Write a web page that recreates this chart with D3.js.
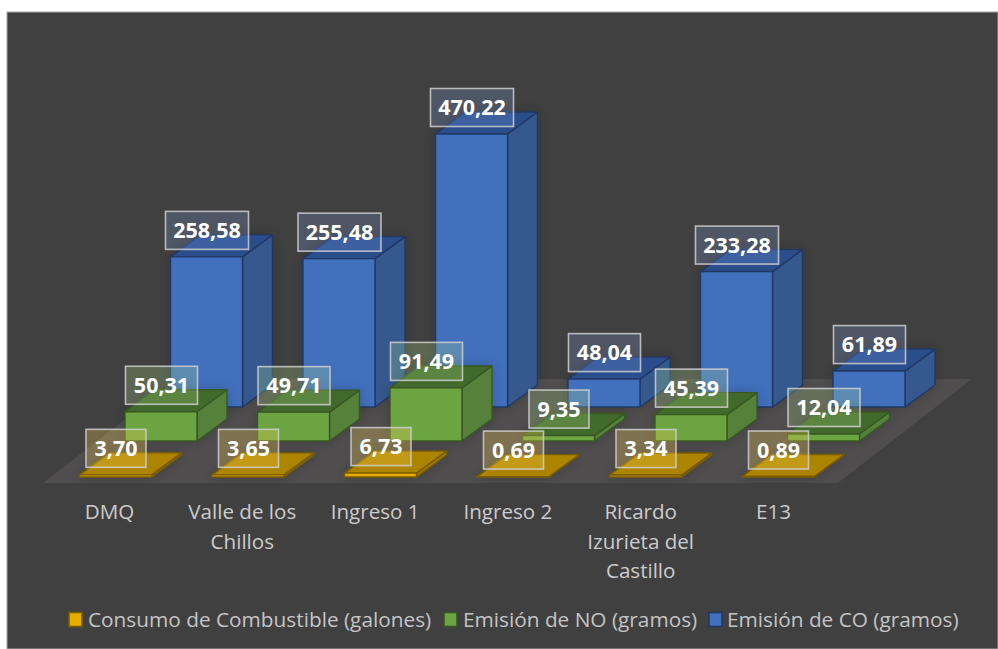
<!DOCTYPE html>
<html><head><meta charset="utf-8">
<script src="https://cdn.jsdelivr.net/npm/d3@7/dist/d3.min.js"></script>
<style>html,body{margin:0;padding:0;background:#fff}svg{display:block}text{font-family:"Open Sans",sans-serif}</style>
</head><body><svg id="c" width="998" height="649"></svg>
<script>
const categories=["DMQ","Valle de los Chillos","Ingreso 1","Ingreso 2","Ricardo Izurieta del Castillo","E13"];
const categoryLines=[["DMQ"],["Valle de los","Chillos"],["Ingreso 1"],["Ingreso 2"],["Ricardo","Izurieta del","Castillo"],["E13"]];
const seriesNames=["Consumo de Combustible (galones)","Emisión de NO (gramos)","Emisión de CO (gramos)"];
const consumo=[3.70,3.65,6.73,0.69,3.34,0.89];
const emisionNO=[50.31,49.71,91.49,9.35,45.39,12.04];
const emisionCO=[258.58,255.48,470.22,48.04,233.28,61.89];
const seriesValues=[consumo,emisionNO,emisionCO];
const frontColors=["#e6ad00","#6ca443","#4270bd"];
const sideColors=["#a07a00","#54813a","#34588f"];
const topColors=["#ad8400","#436b2a","#2c4e8c"];
const strokeColors=["#7a5c00","#385723","#203864"];
const labelFills=["rgba(255,213,90,.27)","rgba(170,215,140,.25)","rgba(130,165,235,.22)"];

const W=998,H=649;
const svg=d3.select("#c");
const defs=svg.append("defs");
const f=defs.append("filter").attr("id","sh").attr("x","-30%").attr("y","-30%").attr("width","160%").attr("height","160%");
f.append("feDropShadow").attr("dx",0).attr("dy",0).attr("stdDeviation",6).attr("flood-color","#000").attr("flood-opacity",.2);

svg.append("rect").attr("x",7).attr("y",12).attr("width",W-7).attr("height",H-12).attr("fill","#404040").attr("stroke","#a6a6a6").attr("stroke-width",1);

const barW=72, depthX=30, depthY=22;
const x=d3.scalePoint().domain(categories).range([79.5,79.5+132.5*5]);
const sx=d3.scalePoint().domain(seriesNames).range([0,91]);
const base=d3.scaleOrdinal().domain(seriesNames).range([477,441,407]);
const h=d3.scaleLinear().domain([0,470.22]).range([0,273]);

// floor
svg.append("polygon").attr("points",[[43,483],[838,483],[972,379],[177,379]].join(" ")).attr("fill","#4f4d4d");

const poly=p=>p.map(q=>q.join(",")).join(" ");
const g=svg.append("g");
[2,1,0].forEach(si=>{
  const name=seriesNames[si];
  categories.forEach((c,i)=>{
    const v=seriesValues[si][i];
    const x0=x(c)+sx(name), x1=x0+barW, y0=base(name), y1=y0-h(v);
    const b=g.append("g").attr("filter","url(#sh)").attr("stroke",strokeColors[si]).attr("stroke-width",1.4).attr("stroke-linejoin","round");
    b.append("polygon").attr("points",poly([[x1,y0],[x1+depthX,y0-depthY],[x1+depthX,y1-depthY],[x1,y1]])).attr("fill",sideColors[si]);
    b.append("polygon").attr("points",poly([[x0,y1],[x1,y1],[x1+depthX,y1-depthY],[x0+depthX,y1-depthY]])).attr("fill",topColors[si]);
    b.append("rect").attr("x",x0).attr("y",y1).attr("width",barW).attr("height",y0-y1).attr("fill",frontColors[si]);
  });
});

// data labels
const fmt=d3.formatLocale({decimal:",",thousands:".",grouping:[3],currency:["",""]}).format(".2f");
const lg=svg.append("g");
[2,1,0].forEach(si=>{
  const name=seriesNames[si];
  categories.forEach((c,i)=>{
    const v=seriesValues[si][i], s=fmt(v);
    const cx=x(c)+sx(name)+barW/2+0.5, cy=base(name)-h(v)-26.5;
    const w=s.length>=6?83:(s.length==5?72:60);
    lg.append("rect").attr("x",cx-w/2).attr("y",cy-19).attr("width",w).attr("height",38)
      .attr("fill",labelFills[si]).attr("stroke","#cfcfcf").attr("stroke-opacity",.85).attr("stroke-width",1.6);
    lg.append("text").attr("x",cx).attr("y",cy).attr("dy","0.36em").attr("text-anchor","middle")
      .attr("fill","#fff").attr("font-weight",700).attr("font-size",21.5).text(s);
  });
});

// category labels
const tx=d3.scalePoint().domain(categories).range([109.5,109.5+132.8*5]);
categories.forEach((c,i)=>{
  const t=svg.append("text").attr("text-anchor","middle").attr("fill","#cccccc").attr("font-size",20.6);
  categoryLines[i].forEach((l,j)=>t.append("tspan").attr("x",tx(c)).attr("y",519+j*29.5).text(l));
});

// legend
const legendSwatchX=[68,443,708], legendTextX=[88,463,727];
seriesNames.forEach((n,i)=>{
  svg.append("rect").attr("x",legendSwatchX[i]+1).attr("y",612.5).attr("width",13).attr("height",14)
    .attr("fill",frontColors[i]).attr("stroke",strokeColors[i]).attr("stroke-width",1.6);
  svg.append("text").attr("x",legendTextX[i]).attr("y",627).attr("fill","#c4c4c4").attr("font-size",20.8).text(n);
});
</script></body></html>
